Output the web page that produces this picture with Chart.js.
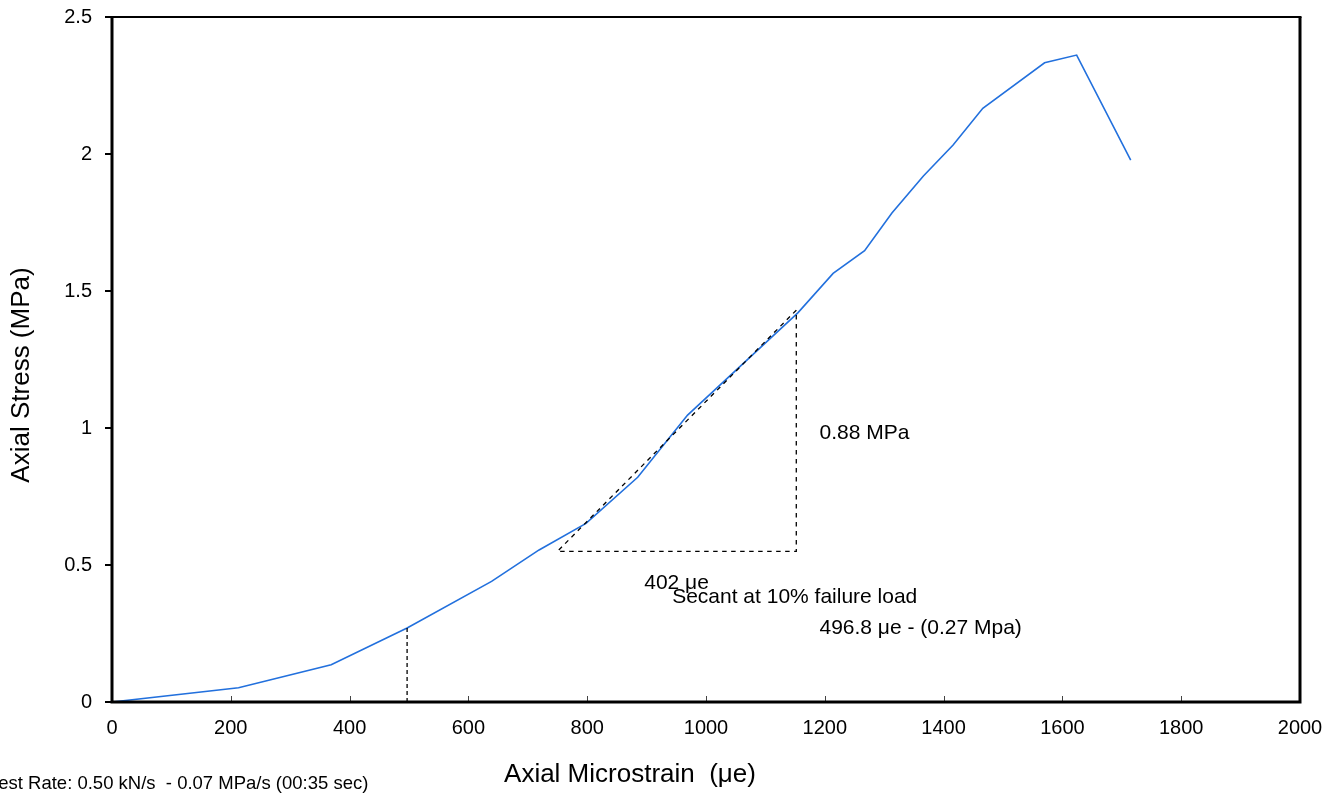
<!DOCTYPE html>
<html lang="en">
<head>
<meta charset="UTF-8">
<title>Axial Stress vs Axial Microstrain</title>
<style>
    body { margin: 0; background: #fff; }
    canvas { display: block; }
</style>
</head>
<body>
<canvas id="stressChart" width="1336" height="796"></canvas>
<script src="https://cdn.jsdelivr.net/npm/chart.js"></script>
<script>
// Stress-strain record
const strain = [0, 213, 369, 496.8, 639, 719, 798, 885, 969, 1155, 1214, 1267, 1313, 1366, 1416, 1466, 1570, 1624, 1715];
const stress = [0, 0.052, 0.136, 0.27, 0.44, 0.555, 0.652, 0.82, 1.047, 1.421, 1.564, 1.647, 1.785, 1.92, 2.033, 2.167, 2.333, 2.361, 1.978];

// Secant triangle: 402 µe run, 0.88 MPa rise
const secantStrain = [1152, 750, 1152, 1152];
const secantStress = [1.43, 0.55, 0.55, 1.43];

// 10% failure load marker
const failStrain = [496.8, 496.8];
const failStress = [0, 0.27];

// Axis ticks
const xTicks = [0, 200, 400, 600, 800, 1000, 1200, 1400, 1600, 1800, 2000];
const yTicks = [0, 0.5, 1, 1.5, 2, 2.5];

// Text notes placed in data units (left edge, vertical middle)
const noteTexts = ['0.88 MPa', '402 μe', 'Secant at 10% failure load', '496.8 μe - (0.27 Mpa)'];
const noteStrain = [1191, 896, 943, 1191];
const noteStress = [0.982, 0.435, 0.383, 0.27];

const FONT = '"Liberation Sans", Arial, Helvetica, sans-serif';

const toPoints = (xs, ys) => xs.map((v, i) => ({ x: v, y: ys[i] }));

// frame, inner x ticks, notes and axis titles
const overlay = {
    id: 'overlay',
    afterDraw(chart) {
        const { ctx, chartArea: a, scales: { x, y } } = chart;
        ctx.save();

        ctx.strokeStyle = '#444';
        ctx.lineWidth = 1;
        xTicks.forEach(v => {
            const px = Math.round(x.getPixelForValue(v)) + 0.5;
            ctx.beginPath();
            ctx.moveTo(px, a.bottom);
            ctx.lineTo(px, a.bottom - 6);
            ctx.stroke();
        });

        ctx.strokeStyle = '#000';
        ctx.lineWidth = 3;
        ctx.beginPath();
        ctx.moveTo(a.left, a.top);
        ctx.lineTo(a.left, a.bottom);
        ctx.lineTo(a.right, a.bottom);
        ctx.lineTo(a.right, a.top);
        ctx.stroke();
        ctx.lineWidth = 2;
        ctx.beginPath();
        ctx.moveTo(a.left - 1.5, a.top);
        ctx.lineTo(a.right + 1.5, a.top);
        ctx.stroke();

        ctx.fillStyle = '#000';
        ctx.textAlign = 'left';
        ctx.textBaseline = 'middle';
        ctx.font = '21px ' + FONT;
        noteTexts.forEach((t, i) => {
            ctx.fillText(t, x.getPixelForValue(noteStrain[i]), y.getPixelForValue(noteStress[i]));
        });

        ctx.font = '18.5px ' + FONT;
        ctx.fillText('Test Rate: 0.50 kN/s  - 0.07 MPa/s (00:35 sec)', -11, 784);

        ctx.font = '26px ' + FONT;
        ctx.textAlign = 'center';
        ctx.fillText('Axial Microstrain  (μe)', 630, 775);
        ctx.translate(22, 375);
        ctx.rotate(-Math.PI / 2);
        ctx.fillText('Axial Stress (MPa)', 0, 0);

        ctx.restore();
    }
};

new Chart(document.getElementById('stressChart'), {
    type: 'scatter',
    data: {
        datasets: [
            {
                data: toPoints(secantStrain, secantStress),
                showLine: true,
                borderColor: '#000',
                borderWidth: 1.3,
                borderDash: [4.5, 4.5],
                pointRadius: 0,
                order: 1
            },
            {
                data: toPoints(failStrain, failStress),
                showLine: true,
                borderColor: '#000',
                borderWidth: 1.3,
                borderDash: [4, 3],
                pointRadius: 0,
                order: 1
            },
            {
                data: toPoints(strain, stress),
                showLine: true,
                borderColor: '#2270dd',
                borderWidth: 1.6,
                pointRadius: 0,
                order: 2
            }
        ]
    },
    options: {
        responsive: false,
        animation: false,
        layout: { padding: { top: 17, right: 36, left: 0, bottom: 0 } },
        plugins: {
            legend: { display: false },
            tooltip: { enabled: false }
        },
        scales: {
            x: {
                type: 'linear',
                min: 0,
                max: 2000,
                afterFit(scale) {
                    scale.height = 94;
                    scale.paddingLeft = 0;
                    scale.paddingRight = 0;
                },
                afterBuildTicks(scale) { scale.ticks = xTicks.map(v => ({ value: v })); },
                ticks: {
                    color: '#000',
                    font: { family: FONT, size: 20 },
                    padding: 14,
                    maxRotation: 0,
                    callback: v => String(v)
                },
                grid: { drawOnChartArea: false, drawTicks: false },
                border: { display: false }
            },
            y: {
                min: 0,
                max: 2.5,
                afterFit(scale) {
                    scale.width = 112;
                    scale.paddingTop = 0;
                    scale.paddingBottom = 0;
                },
                afterBuildTicks(scale) { scale.ticks = yTicks.map(v => ({ value: v })); },
                ticks: {
                    color: '#000',
                    font: { family: FONT, size: 20 },
                    padding: 13,
                    callback: v => String(v)
                },
                grid: { drawOnChartArea: false, drawTicks: true, tickLength: 7, color: '#000', lineWidth: 2 },
                border: { display: false }
            }
        }
    },
    plugins: [overlay]
});
</script>
</body>
</html>
